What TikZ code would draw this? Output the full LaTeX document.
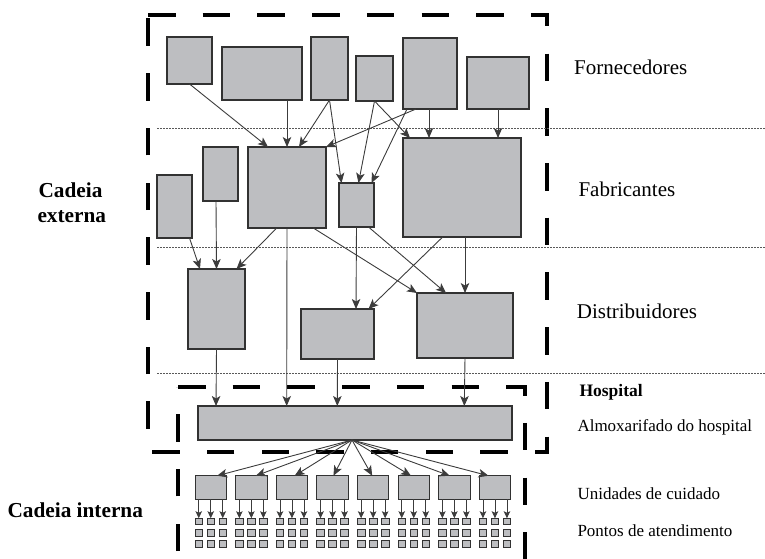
\documentclass[tikz,border=0pt]{standalone}
\usepackage{fontspec}
\setmainfont{Liberation Serif}
\usetikzlibrary{arrows.meta}
\definecolor{boxgray}{RGB}{189,190,193}
\definecolor{edgegray}{RGB}{50,50,50}
\definecolor{linegray}{RGB}{60,60,60}
\begin{document}
\begin{tikzpicture}[x=1pt,y=-1pt,
  box/.style={draw=edgegray,fill=boxgray,line width=1.2pt,inner sep=0,outer sep=0},
  flow/.style={draw=linegray,line width=0.9pt,-{Stealth[length=10pt,width=8.5pt,inset=2.5pt]}},
  unitflow/.style={draw=linegray,line width=0.8pt,-{Stealth[length=7pt,width=6.5pt,inset=1.5pt]}},
  chainbox/.style={line width=3.8pt,dash pattern=on 27.5pt off 27.2pt},
  tierline/.style={draw=gray!70!black,line width=0.7pt,dash pattern=on 2pt off 1pt},
  tier/.style={inner sep=0,anchor=base west,font=\fontsize{21}{25}\selectfont},
  ward/.style={inner sep=0,anchor=base west,font=\fontsize{17}{20}\selectfont}]
\useasboundingbox (0,0) rectangle (765,559);
\clip (0,0) rectangle (765,559);
% cadeia externa / hospital
\draw[chainbox] (148,15) -- (547,15) -- (547,452) -- (148,452) -- cycle;
\draw[chainbox] (178,387) -- (525,387) -- (525,587) -- (178,587) -- cycle;
\draw[tierline] (157,128) -- (765,128);
\draw[tierline] (157,247) -- (765,247);
\draw[tierline] (157,373) -- (765,373);
% fornecedores
\node[box,minimum width=45pt,minimum height=47pt] (f1) at (189.5,60.5) {};
\node[box,minimum width=80pt,minimum height=53pt] (f2) at (262,73.5) {};
\node[box,minimum width=37pt,minimum height=63pt] (f3) at (329.5,68.5) {};
\node[box,minimum width=37pt,minimum height=45pt] (f4) at (374.5,78.5) {};
\node[box,minimum width=54pt,minimum height=71pt] (f5) at (430,73.5) {};
\node[box,minimum width=62pt,minimum height=52pt] (f6) at (498,83) {};
% fabricantes
\node[box,minimum width=35pt,minimum height=63pt] (fa1) at (174.5,206.5) {};
\node[box,minimum width=35pt,minimum height=54pt] (fa2) at (220.5,174) {};
\node[box,minimum width=78pt,minimum height=81pt] (fa3) at (287,187.5) {};
\node[box,minimum width=35pt,minimum height=44pt] (fa4) at (356.5,205) {};
\node[box,minimum width=118pt,minimum height=99pt] (fa5) at (462,187.5) {};
% distribuidores
\node[box,minimum width=57pt,minimum height=80pt] (d1) at (216.5,309) {};
\node[box,minimum width=73pt,minimum height=50pt] (d2) at (337.5,334) {};
\node[box,minimum width=96pt,minimum height=65pt] (d3) at (465,325.5) {};
% almoxarifado
\node[box,minimum width=314pt,minimum height=34pt] (hosp) at (355,423) {};
\coordinate (hub) at ([xshift=-3pt]hosp.south);

\draw[flow] (f1.south) -- ([xshift=-19pt]fa3.north);
\draw[flow] ([xshift=25pt]f2.south) -- (fa3.north);
\draw[flow] (f3.south) -- ([xshift=12pt]fa3.north);
\draw[flow] (f3.south) -- ([xshift=-15pt]fa4.north);
\draw[flow] (f4.south) -- ([xshift=2pt]fa4.north);
\draw[flow] (f4.south) -- ([xshift=-52pt]fa5.north);
\draw[flow] ([xshift=-14pt]f5.south) -- (fa3.north east);
\draw[flow] ([xshift=-23pt]f5.south) -- ([xshift=15pt]fa4.north);
\draw[flow] ([xshift=-1pt]f5.south) -- ([xshift=-33pt]fa5.north);
\draw[flow] (f6.south) -- ([xshift=36pt]fa5.north);

\draw[flow] ([xshift=15pt]fa1.south) -- ([xshift=-16.5pt]d1.north);
\draw[flow] ([xshift=-4.5pt]fa2.south) -- (d1.north);
\draw[flow] ([xshift=-10.3pt]fa3.south) -- ([xshift=20pt]d1.north);
\draw[flow] (fa3.south) -- ([xshift=-68.3pt]hosp.north);
\draw[flow] ([xshift=26.3pt]fa3.south) -- (d3.north west);
\draw[flow] (fa4.south) -- ([xshift=18.5pt]d2.north);
\draw[flow] ([xshift=12pt]fa4.south) -- ([xshift=-19pt]d3.north);
\draw[flow] ([xshift=-19.3pt]fa5.south) -- ([xshift=31pt]d2.north);
\draw[flow] ([xshift=3pt]fa5.south) -- (d3.north);

\draw[flow] (d1.south) -- ([xshift=-139pt]hosp.north);
\draw[flow] (d2.south) -- ([xshift=-17.7pt]hosp.north);
\draw[flow] (d3.south) -- ([xshift=109.3pt]hosp.north);
% unidades de cuidado e pontos de atendimento
\foreach \i in {1,...,8}{
  \pgfmathsetmacro\ux{210.75+40.6*(\i-1)}
  \pgfmathsetmacro\tip{0.045*(352-\ux)}
  \node[box,line width=1pt,minimum width=31.5pt,minimum height=23.5pt] (u\i) at (\ux,487.5) {};
  \draw[flow] (hub) -- ([xshift=\tip]u\i.north);
  \foreach \c/\k in {-1/a,0/b,1/c}{
    \foreach \r in {1,2,3}
      \node[box,line width=0.8pt,minimum width=7.5pt,minimum height=6.5pt] (p\i\k\r) at ({\ux+12*\c},{521.5+11.3*(\r-1)}) {};
    \draw[unitflow] ([xshift={12*\c}]u\i.south) -- (p\i\k1.north);
  }
}
% legendas
\node[tier] (forn) at (574,74.3) {Fornecedores};
\node[tier] (fabr) at (578.3,196.7) {Fabricantes};
\node[tier] (dist) at (576.7,318.3) {Distribuidores};
\node[ward,font=\fontsize{17.5}{20}\selectfont\bfseries] (hlab) at (579.3,396.7) {Hospital};
\node[ward] (alm) at (577.3,431.7) {Almoxarifado do hospital};
\node[ward] (unid) at (577.3,499.3) {Unidades de cuidado};
\node[ward] (pont) at (577.3,536.7) {Pontos de atendimento};
\node[tier,font=\fontsize{21.3}{25}\selectfont\bfseries] (ext1) at (38.3,197.3) {Cadeia};
\node[tier,font=\fontsize{21.3}{25}\selectfont\bfseries] (ext2) at (37.3,222.3) {externa};
\node[tier,font=\fontsize{21.3}{25}\selectfont\bfseries] (int) at (7.3,517.7) {Cadeia interna};
\end{tikzpicture}
\end{document}
